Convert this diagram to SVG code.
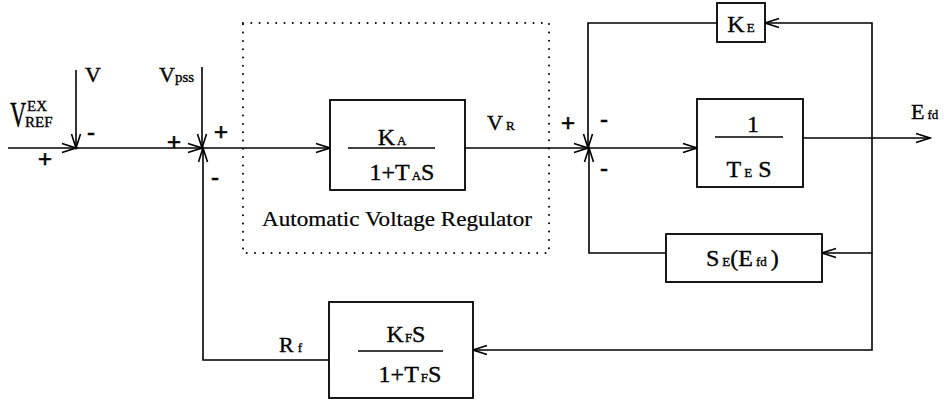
<svg xmlns="http://www.w3.org/2000/svg" width="944" height="402" viewBox="0 0 944 402">
<style>
.ln{fill:none;stroke:#000;stroke-width:1.6}
.bx{fill:#fff;stroke:#000;stroke-width:1.8}
.dot{fill:none;stroke:#000;stroke-width:2;stroke-dasharray:0 8.3;stroke-linecap:round}
text{font-family:"Liberation Serif","Times New Roman",serif;fill:#000;stroke:#000;stroke-width:0.35}
.t{font-size:22px}
.b{font-size:24px}
.s{font-size:13px}
.m{text-anchor:middle}
.sg{font-family:"Liberation Sans",Arial,sans-serif;font-size:24px;stroke-width:0.6;text-anchor:middle}
.lab{font-size:22px;stroke-width:0.2}
</style>
<defs>
<marker id="ar" viewBox="-15 -6 17 12" refX="0" refY="0" markerWidth="17" markerHeight="12" orient="auto" markerUnits="userSpaceOnUse">
<path d="M-14,-4.5 L0,0 L-14,4.5" fill="none" stroke="#000" stroke-width="1.6"/>
</marker>
</defs>
<rect x="0" y="0" width="944" height="402" fill="#fff"/>
<g id="avr-boundary">
<rect x="243" y="23" width="306" height="230" class="dot"/>
<text x="262" y="226" class="lab" textLength="270" lengthAdjust="spacingAndGlyphs">Automatic Voltage Regulator</text>
</g>
<g id="connectors">
<path class="ln" d="M8,148 H76" marker-end="url(#ar)"/>
<path class="ln" d="M76,70 V148" marker-end="url(#ar)"/>
<path class="ln" d="M76,148 H202" marker-end="url(#ar)"/>
<path class="ln" d="M202,67 V148" marker-end="url(#ar)"/>
<path class="ln" d="M202,148 H330" marker-end="url(#ar)"/>
<path class="ln" d="M465,148 H588" marker-end="url(#ar)"/>
<path class="ln" d="M588,148 H697" marker-end="url(#ar)"/>
<path class="ln" d="M717,23 H588 V148" marker-end="url(#ar)"/>
<path class="ln" d="M803,138 H930" marker-end="url(#ar)"/>
<path class="ln" d="M872,138 V23 H765" marker-end="url(#ar)"/>
<path class="ln" d="M872,138 V253 H822" marker-end="url(#ar)"/>
<path class="ln" d="M872,253 V350 H473" marker-end="url(#ar)"/>
<path class="ln" d="M666,253 H589 V148" marker-end="url(#ar)"/>
<path class="ln" d="M329,360 H203 V148" marker-end="url(#ar)"/>
</g>
<g id="sum1">
<text transform="translate(10,127) scale(0.8,1.3)" style="font-size:28px">V</text>
<text x="27" y="111" style="font-size:15px">EX</text>
<text x="25" y="127" style="font-size:15px">REF</text>
<text x="85" y="82" class="t">V</text>
<text x="45" y="167" class="sg">+</text>
<text x="91" y="140" class="sg">-</text>
</g>
<g id="sum2">
<text x="159" y="82" class="t">V<tspan style="font-size:15px">pss</tspan></text>
<text x="174" y="150" class="sg">+</text>
<text x="221" y="140" class="sg">+</text>
<text x="215" y="185" class="sg">-</text>
</g>
<g id="ka-block">
<rect x="330" y="100" width="135" height="90" class="bx"/>
<text x="392" y="145" class="b m">K<tspan class="s" dx="2">A</tspan></text>
<line x1="348" y1="148" x2="435" y2="148" class="ln"/>
<text x="402" y="180" class="b m">1+T<tspan class="s" dx="2">A</tspan>S</text>
<text x="487" y="130" class="t">V<tspan class="s" dx="3">R</tspan></text>
</g>
<g id="sum3">
<text x="568" y="131" class="sg">+</text>
<text x="604" y="127" class="sg">-</text>
<text x="604" y="176" class="sg">-</text>
</g>
<g id="ke-block">
<rect x="717" y="3" width="48" height="39" class="bx"/>
<text x="741" y="32" class="b m">K<tspan class="s" dx="2">E</tspan></text>
</g>
<g id="te-block">
<rect x="697" y="99" width="106" height="88" class="bx"/>
<text x="753" y="132" class="b m">1</text>
<line x1="715" y1="137" x2="783" y2="137" class="ln"/>
<text x="749" y="177" class="b m">T<tspan class="s" dx="3">E</tspan><tspan dx="6">S</tspan></text>
<text x="911" y="119" class="t">E<tspan class="s" dx="3">fd</tspan></text>
</g>
<g id="se-block">
<rect x="666" y="234" width="156" height="48" class="bx"/>
<text x="706" y="266" class="b">S<tspan class="s" dx="3">E</tspan>(E<tspan class="s" dx="3">fd</tspan><tspan dx="4">)</tspan></text>
</g>
<g id="kf-block">
<rect x="329" y="302" width="144" height="96" class="bx"/>
<text x="406" y="342" class="b m">K<tspan class="s" dx="1">F</tspan>S</text>
<line x1="358" y1="351" x2="443" y2="351" class="ln"/>
<text x="410" y="382" class="b m">1+T<tspan class="s" dx="2">F</tspan>S</text>
<text x="279" y="352" class="t">R<tspan class="s" dx="4">f</tspan></text>
</g>
</svg>
